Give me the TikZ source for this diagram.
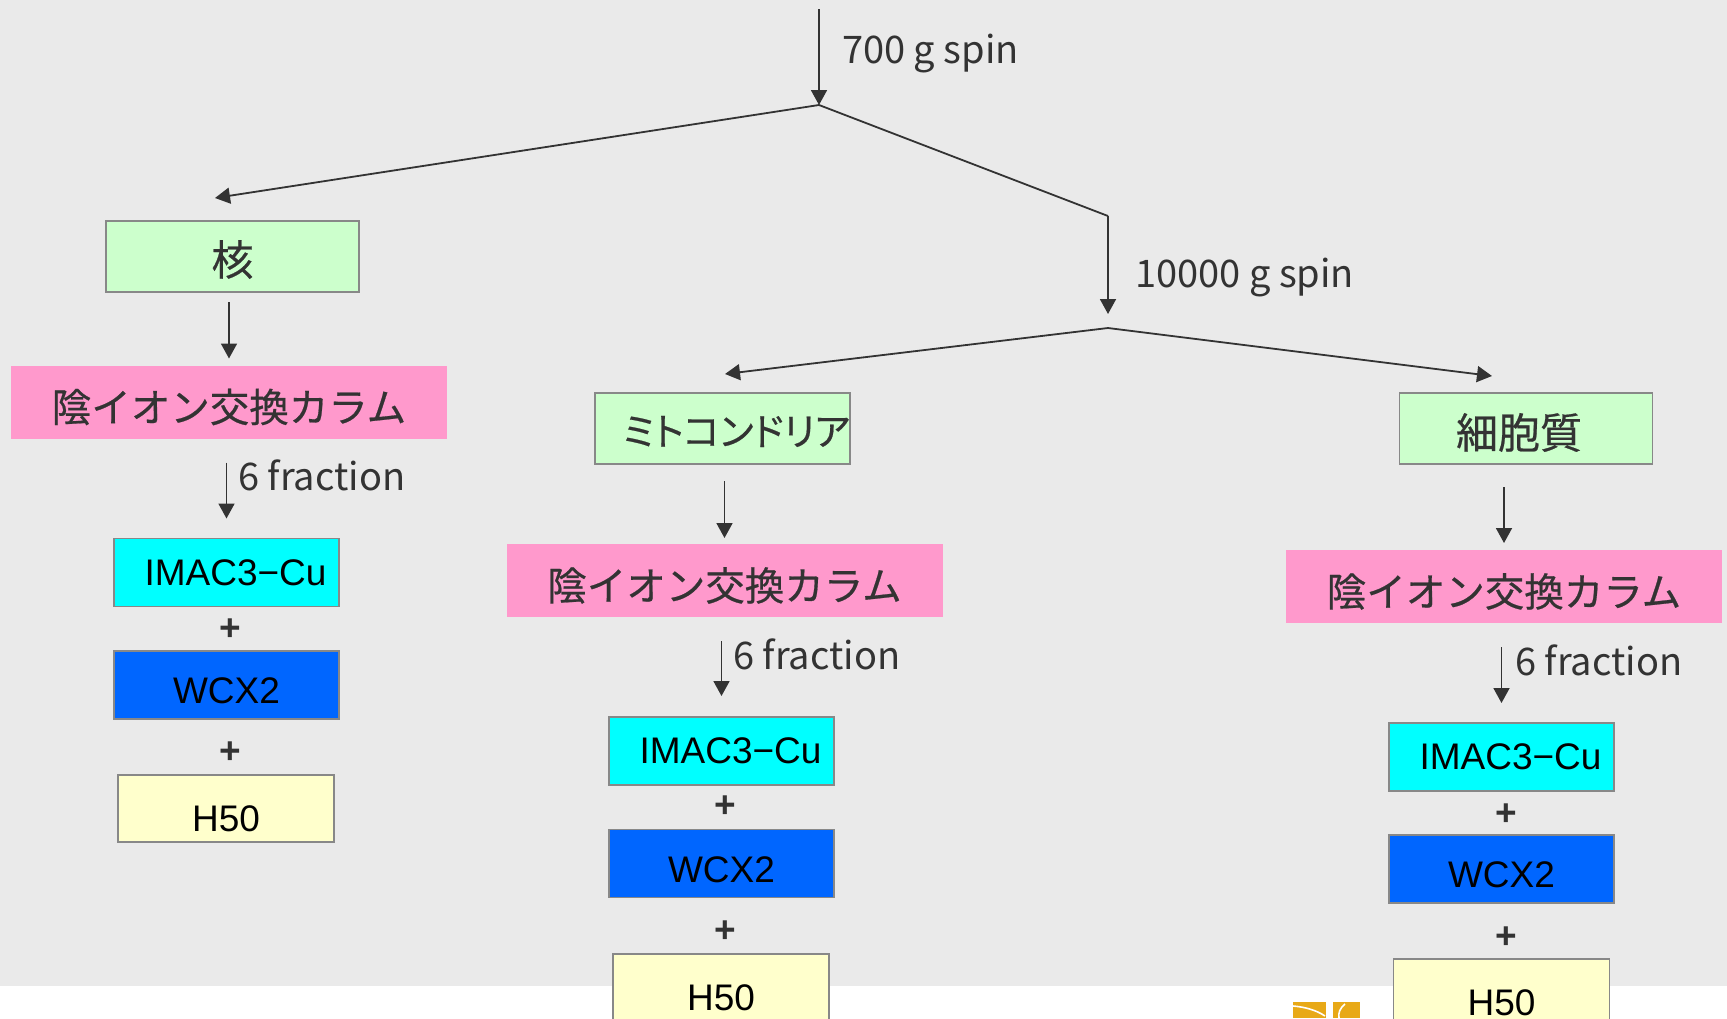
\documentclass[tikz,border=0pt]{standalone}
\usepackage{fontspec}
\setmainfont{Noto Sans CJK JP}
\newfontfamily\jpbox[FakeBold=0.5]{Noto Sans CJK JP}
\newfontfamily\jpprop[RawFeature=+palt,FakeBold=0.5]{Noto Sans CJK JP}
\newfontfamily\latinfont{Liberation Sans}
\usetikzlibrary{arrows.meta}

\definecolor{bggray}{HTML}{EAEAEA}
\definecolor{inkgray}{HTML}{333333}
\definecolor{edgegray}{HTML}{888888}
\definecolor{fracgreen}{HTML}{CCFFCC}
\definecolor{colpink}{HTML}{FF99CC}
\definecolor{imaccyan}{HTML}{00FFFF}
\definecolor{wcxblue}{HTML}{0066FF}
\definecolor{hyellow}{HTML}{FFFFCC}
\definecolor{logoorange}{HTML}{E8A917}

% lower the box label a little below the geometric centre, keeping its box size
\newcommand{\dropby}[2]{\raisebox{-#1}[\height][\depth]{#2}}

\tikzset{
  arr/.style={draw=inkgray, line width=1.8pt, -{Triangle[width=16pt,length=15pt]}},
  seg/.style={draw=inkgray, line width=1.8pt},
  basebox/.style={inner sep=0pt, outer sep=0pt, text=inkgray},
  fracbox/.style={basebox, draw=edgegray, line width=1.6pt, fill=fracgreen,
    minimum width=253pt, minimum height=71pt,
    font=\jpbox\fontsize{42}{46}\selectfont},
  colbox/.style={basebox, fill=colpink, minimum width=436pt, minimum height=73pt,
    font=\jpbox\fontsize{39.5}{44}\selectfont},
  resin/.style={inner sep=0pt, outer sep=0pt, draw=edgegray, line width=1.6pt,
    text=black, font=\latinfont\fontsize{37}{40}\selectfont,
    minimum width=225pt, minimum height=68pt},
  imacbox/.style={resin, fill=imaccyan},
  wcxbox/.style={resin, fill=wcxblue},
  hbox/.style={resin, fill=hyellow, minimum width=216pt, minimum height=67pt,
    text height=46pt, text depth=0pt},
  plus/.style={inner sep=0pt, text=inkgray,
    font=\latinfont\bfseries\fontsize{37}{40}\selectfont},
  lbl/.style={inner sep=0pt, anchor=base west, text=inkgray,
    font=\fontsize{38}{42}\selectfont},
}

\begin{document}
\begin{tikzpicture}[x=1pt, y=-1pt]
  \useasboundingbox (0,0) rectangle (1727,1018);
  % slide background and white footer band
  \fill[bggray] (0,0) rectangle (1727,986);

  % footer logo fragment
  \fill[logoorange] (1293,1002) rectangle (1326,1018);
  \fill[logoorange] (1333,1002) rectangle (1360,1018);
  \draw[white, line width=1.6pt] (1293,1006) .. controls (1305,1007) and (1316,1010) .. (1325,1016);
  \draw[white, line width=1.6pt] (1345,1004) .. controls (1340,1008) and (1338,1013) .. (1339,1018);

  % branching points of the centrifugation scheme
  \coordinate (top)   at (819,9);
  \coordinate (split1) at (819,105);
  \coordinate (bend)  at (1108,216);
  \coordinate (split2) at (1108,328);
  \coordinate (tipNuc)  at (215,198);
  \coordinate (tipMito) at (725,374);
  \coordinate (tipCyto) at (1492,376);

  % --- nuclear fraction column ---
  \node[fracbox] (nuc) at (232.5,256.5) {\dropby{3pt}{核}};
  \node[colbox] (ionA) at (229,402) {\dropby{5pt}{陰イオン交換カラム}};
  \node[imacbox] (imacA) at (226.5,572.5) {\hspace*{18pt}IMAC3−Cu};
  \node[plus] (pA1) at (230,630) {+};
  \node[wcxbox] (wcxA) at (226.5,685) {\dropby{6pt}{WCX2}};
  \node[plus] (pA2) at (230,753) {+};
  \node[hbox] (hA) at (226,808.5) {H50};

  % --- mitochondrial fraction column ---
  \node[fracbox, font=\jpprop\fontsize{38}{42}\selectfont] (mito) at (722.5,428.5) {\hspace*{28pt}\dropby{3pt}{ミトコンドリア}};
  \node[colbox] (ionB) at (724.5,580.5) {\dropby{5pt}{陰イオン交換カラム}};
  \node[imacbox] (imacB) at (721.5,751) {\hspace*{18pt}IMAC3−Cu};
  \node[plus] (pB1) at (725,807) {+};
  \node[wcxbox] (wcxB) at (721.5,863.5) {\dropby{6pt}{WCX2}};
  \node[plus] (pB2) at (725,932) {+};
  \node[hbox] (hB) at (721,987.5) {H50};

  % --- cytosolic fraction column ---
  \node[fracbox] (cyto) at (1526,428.5) {\hspace*{-14pt}\dropby{4pt}{細胞質}};
  \node[colbox] (ionC) at (1504,586.5) {\dropby{5pt}{陰イオン交換カラム}};
  \node[imacbox] (imacC) at (1501.5,757) {\hspace*{18pt}IMAC3−Cu};
  \node[plus] (pC1) at (1506,815) {+};
  \node[wcxbox] (wcxC) at (1501.5,869) {\dropby{6pt}{WCX2}};
  \node[plus] (pC2) at (1506,938) {+};
  \node[hbox] (hC) at (1501.5,992.5) {H50};

  % centrifugation steps
  \draw[arr] (top) -- (split1);
  \node[lbl] (spin1) at (842,63) {700 g spin};
  \draw[arr] (split1) -- (tipNuc);
  \draw[seg] (split1) -- (bend);
  \draw[arr] (bend) -- ([yshift=14pt]split2);
  \node[lbl] (spin2) at (1135,287) {10000 g spin};
  \draw[arr] (split2) -- (tipMito);
  \draw[arr] (split2) -- (tipCyto);

  % fraction -> anion exchange column
  \draw[arr, shorten <=10pt, shorten >=7pt] (ionA.north |- nuc.south) -- (ionA.north);
  \draw[arr, shorten <=17pt, shorten >=6pt] (ionB.north |- mito.south) -- (ionB.north);
  \draw[arr, shorten <=23pt, shorten >=7pt] (ionC.north |- cyto.south) -- (ionC.north);

  % anion exchange column -> 6 fractions
  \draw[arr, shorten <=24pt, shorten >=20pt] (imacA.north |- ionA.south) -- (imacA.north);
  \node[lbl] (fracA) at (238,490) {6 fraction};
  \draw[arr, shorten <=24pt, shorten >=21pt] (imacB.north |- ionB.south) -- (imacB.north);
  \node[lbl] (fracB) at (733,669) {6 fraction};
  \draw[arr, shorten <=24pt, shorten >=20pt] (imacC.north |- ionC.south) -- (imacC.north);
  \node[lbl] (fracC) at (1515,675) {6 fraction};
\end{tikzpicture}
\end{document}
